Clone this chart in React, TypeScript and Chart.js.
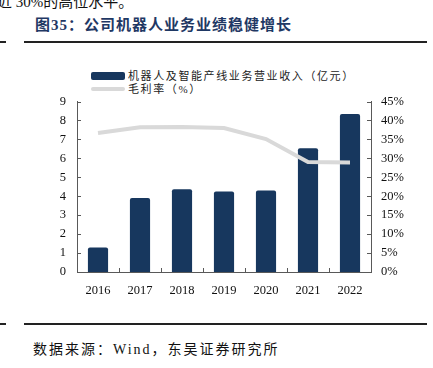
import React, { useEffect, useRef } from "react";
import { Chart, registerables } from "chart.js";

Chart.register(...registerables);

const categories = ["2016", "2017", "2018", "2019", "2020", "2021", "2022"];
const revenue = [1.29, 3.9, 4.37, 4.25, 4.3, 6.53, 8.34];
const grossMargin = [36.7, 38.2, 38.3, 38.0, 35.1, 29.0, 28.9];
const leftTicksMax = 9;
const rightTicksMax = 45;

const revenueLabel = "机器人及智能产线业务营业收入（亿元）";
const marginLabel = "毛利率（%）";
const titleText = "图35：公司机器人业务业绩稳健增长";
const sourceText = "数据来源：Wind，东吴证券研究所";
const topText = "近 30%的高位水平。";

const NAVY = "#17375E";
const GRAY = "#D9D9D9";
const AXIS = "#595959";
const FONT = '"Liberation Serif", "Noto Sans CJK SC", serif';

const innerTicks = {
  id: "innerTicks",
  afterDraw(chart: any) {
    const { ctx, chartArea } = chart;
    const x = chart.scales.x;
    const y = chart.scales.y;
    const y1 = chart.scales.y1;
    ctx.save();
    ctx.strokeStyle = AXIS;
    ctx.lineWidth = 1;
    ctx.beginPath();
    y.ticks.forEach((_t: any, i: number) => {
      const py = Math.round(y.getPixelForTick(i)) + 0.5;
      ctx.moveTo(chartArea.left, py);
      ctx.lineTo(chartArea.left + 4, py);
    });
    y1.ticks.forEach((_t: any, i: number) => {
      const py = Math.round(y1.getPixelForTick(i)) + 0.5;
      ctx.moveTo(chartArea.right, py);
      ctx.lineTo(chartArea.right - 4, py);
    });
    for (let i = 1; i < categories.length; i++) {
      const px = Math.round(x.getPixelForValue(i - 0.5)) + 0.5;
      ctx.moveTo(px, chartArea.bottom);
      ctx.lineTo(px, chartArea.bottom - 4);
    }
    ctx.stroke();
    ctx.restore();
  },
};

export default function App() {
  const ref = useRef<HTMLCanvasElement | null>(null);

  useEffect(() => {
    if (!ref.current) return;
    const chart = new Chart(ref.current, {
      type: "bar",
      data: {
        labels: categories,
        datasets: [
          {
            type: "line",
            label: marginLabel,
            data: grossMargin,
            yAxisID: "y1",
            borderColor: GRAY,
            backgroundColor: GRAY,
            borderWidth: 4,
            pointRadius: 0,
            tension: 0,
            order: 0,
          } as any,
          {
            type: "bar",
            label: revenueLabel,
            data: revenue,
            yAxisID: "y",
            backgroundColor: NAVY,
            borderRadius: 2,
            borderSkipped: "bottom",
            categoryPercentage: 1,
            barPercentage: 0.48,
            order: 1,
          } as any,
        ],
      },
      options: {
        animation: false,
        responsive: false,
        maintainAspectRatio: false,
        layout: { padding: { top: 7, left: 0, right: 0, bottom: 0 } },
        plugins: {
          legend: { display: false },
          tooltip: { enabled: false },
        },
        scales: {
          x: {
            grid: { display: false, drawTicks: false },
            border: { display: true, color: AXIS, width: 1 },
            ticks: { color: "#111", font: { family: FONT, size: 12.5 }, padding: 11, autoSkip: false, maxRotation: 0 },
            afterFit: (s: any) => {
              s.height = 33;
            },
          },
          y: {
            position: "left",
            min: 0,
            max: leftTicksMax,
            grid: { display: false, drawTicks: false },
            border: { display: true, color: AXIS, width: 1 },
            ticks: { stepSize: 1, autoSkip: false, color: "#111", font: { family: FONT, size: 12.5 }, padding: 11 },
            afterFit: (s: any) => {
              s.width = 77;
            },
          },
          y1: {
            position: "right",
            min: 0,
            max: rightTicksMax,
            grid: { display: false, drawTicks: false },
            border: { display: true, color: AXIS, width: 1 },
            ticks: {
              stepSize: 5,
              autoSkip: false,
              color: "#111",
              font: { family: FONT, size: 12.5 },
              padding: 10,
              callback: (v: any) => `${v}%`,
            },
            afterFit: (s: any) => {
              s.width = 62;
            },
          },
        },
      },
      plugins: [innerTicks],
    });
    return () => chart.destroy();
  }, []);

  const rule = (top: number) => (
    <>
      <div style={{ position: "absolute", left: 0, top, width: 6, height: 2, background: "#222" }} />
      <div style={{ position: "absolute", left: 24, top, width: 403, height: 2, background: "#222" }} />
    </>
  );

  return (
    <div
      style={{
        position: "fixed",
        left: 0,
        top: 0,
        width: 433,
        height: 368,
        background: "#fff",
        overflow: "hidden",
        fontFamily: FONT,
      }}
    >
      <div
        style={{
          position: "absolute",
          left: -3,
          top: -5,
          fontSize: 15,
          lineHeight: "15px",
          color: "#111",
          whiteSpace: "nowrap",
        }}
      >
        {topText}
      </div>
      <div
        style={{
          position: "absolute",
          left: 35,
          top: 18,
          fontSize: 15,
          lineHeight: "15px",
          fontWeight: "bold",
          color: "#1F3864",
          letterSpacing: 1,
          whiteSpace: "nowrap",
        }}
      >
        {titleText}
      </div>
      {rule(40.5)}
      <div style={{ position: "absolute", left: 91, top: 72, width: 34, height: 8, background: NAVY, borderRadius: 2 }} />
      <div
        style={{
          position: "absolute",
          left: 128,
          top: 70,
          fontSize: 11,
          lineHeight: "12px",
          letterSpacing: 1.6,
          color: "#222",
          whiteSpace: "nowrap",
        }}
      >
        {revenueLabel}
      </div>
      <div style={{ position: "absolute", left: 91, top: 87, width: 34, height: 4, background: GRAY, borderRadius: 2 }} />
      <div
        style={{
          position: "absolute",
          left: 128,
          top: 83,
          fontSize: 11,
          lineHeight: "12px",
          letterSpacing: 1.6,
          color: "#222",
          whiteSpace: "nowrap",
        }}
      >
        {marginLabel}
      </div>
      <div style={{ position: "absolute", left: 0, top: 83, width: 433, height: 222 }}>
        <canvas ref={ref} width={433} height={222} style={{ width: 433, height: 222, display: "block" }} />
      </div>
      {rule(323)}
      <div
        style={{
          position: "absolute",
          left: 33,
          top: 343,
          fontSize: 14,
          lineHeight: "14px",
          letterSpacing: 2,
          color: "#111",
          whiteSpace: "nowrap",
        }}
      >
        {sourceText}
      </div>
    </div>
  );
}
